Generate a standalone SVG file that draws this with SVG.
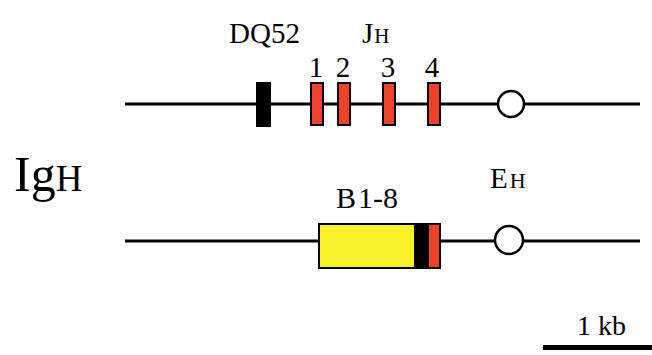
<svg xmlns="http://www.w3.org/2000/svg" width="652" height="355" viewBox="0 0 652 355">
  <style>
    .t { font-family: "Liberation Serif", "Times New Roman", serif; fill: #000; }
    .line { stroke: #000; stroke-width: 3; fill: none; }
    .seg { stroke: #000; stroke-width: 2; }
    .red { fill: #f0422a; }
    .blk { fill: #000; }
    .yel { fill: #f7f12a; }
    .enh { fill: #fff; stroke: #000; stroke-width: 2.5; }
  </style>
  <rect width="652" height="355" fill="#fff"/>

  <g id="connectors">
    <line class="line" x1="125" y1="104" x2="640" y2="104"/>
    <line class="line" x1="125" y1="241" x2="640" y2="241"/>
  </g>

  <g id="label-igh">
    <text class="t" x="14" y="191" font-size="50">Ig<tspan font-size="37">H</tspan></text>
  </g>

  <g id="dq52">
    <rect class="blk" x="256" y="82" width="15" height="45"/>
    <text class="t" x="229" y="43" font-size="29">DQ52</text>
  </g>

  <g id="jh">
    <text class="t" x="362" y="43" font-size="29">J<tspan font-size="21" dx="1">H</tspan></text>
    <rect class="red seg" x="311" y="83" width="12" height="42"/>
    <rect class="red seg" x="338" y="83" width="12" height="42"/>
    <rect class="red seg" x="383" y="83" width="12" height="42"/>
    <rect class="red seg" x="428" y="83" width="12" height="42"/>
    <text class="t" x="316" y="77" font-size="29" text-anchor="middle">1</text>
    <text class="t" x="343" y="77" font-size="29" text-anchor="middle">2</text>
    <text class="t" x="388" y="77" font-size="29" text-anchor="middle">3</text>
    <text class="t" x="432" y="77" font-size="29" text-anchor="middle">4</text>
  </g>

  <g id="eh-top">
    <circle class="enh" cx="511" cy="104" r="13"/>
  </g>

  <g id="eh-label">
    <text class="t" x="490" y="188" font-size="29">E<tspan font-size="22" dx="2">H</tspan></text>
  </g>

  <g id="b1-8">
    <text class="t" x="336" y="208" font-size="30">B<tspan dx="2">1-8</tspan></text>
    <rect class="yel seg" x="319" y="224" width="96" height="44"/>
    <rect class="blk" x="415" y="224" width="13" height="44"/>
    <rect class="red seg" x="428" y="224" width="12" height="44"/>
    <rect x="319" y="224" width="121" height="44" fill="none" stroke="#000" stroke-width="2"/>
  </g>

  <g id="eh-bottom">
    <circle class="enh" cx="509" cy="240" r="14"/>
  </g>

  <g id="scale-bar">
    <text class="t" x="577" y="335" font-size="28">1 kb</text>
    <rect class="blk" x="543" y="345" width="109" height="5"/>
  </g>
</svg>
